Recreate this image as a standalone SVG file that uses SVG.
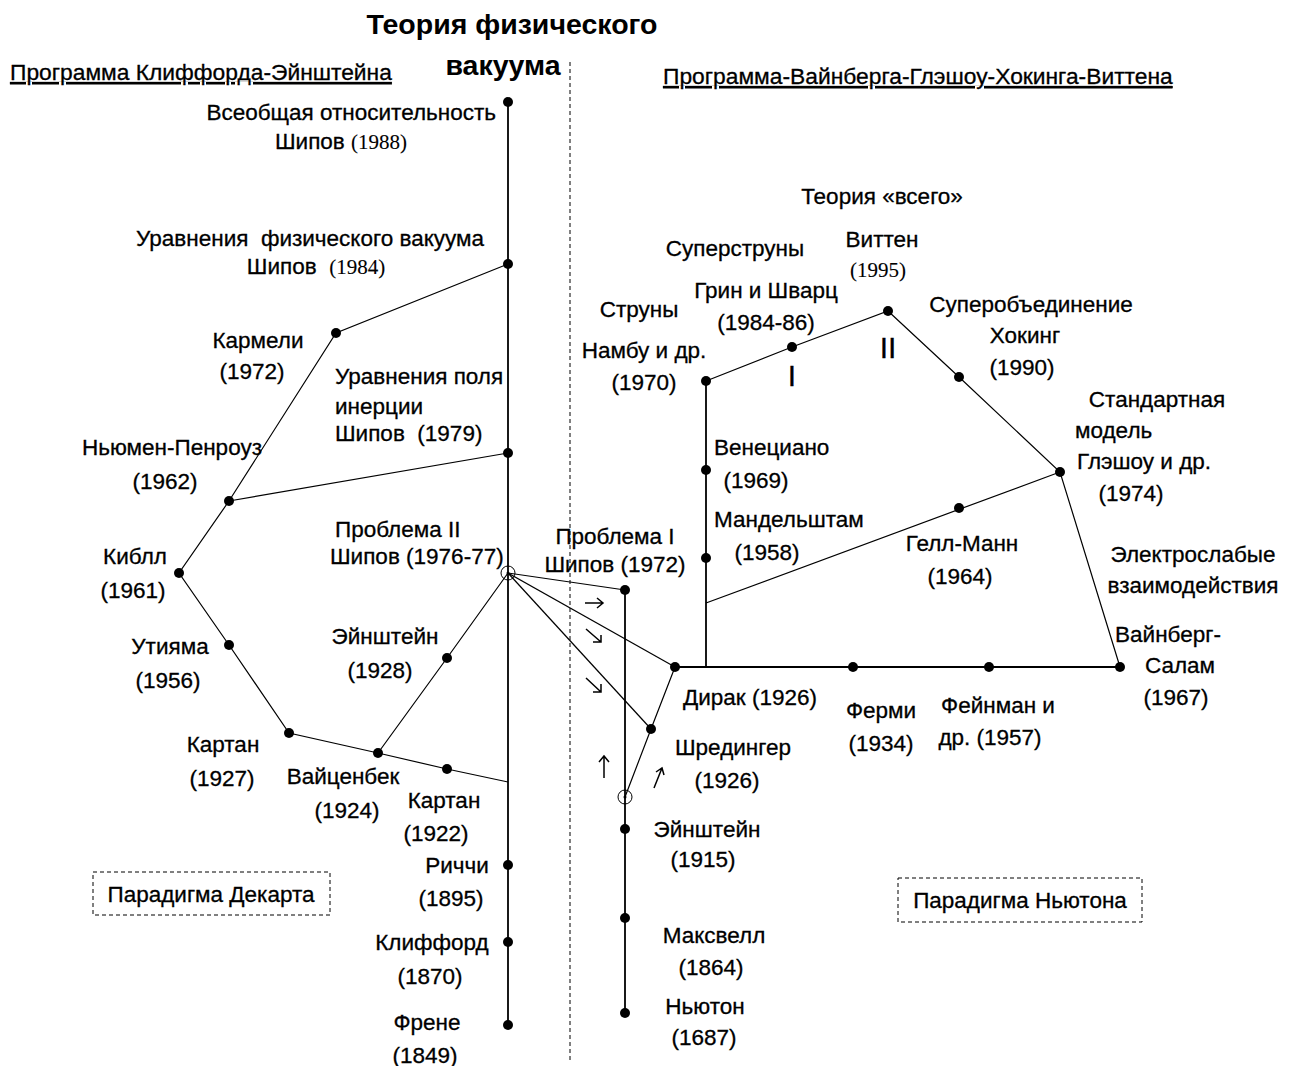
<svg xmlns="http://www.w3.org/2000/svg" width="1297" height="1066" viewBox="0 0 1297 1066">
<defs>
<style>
text{font-family:"Liberation Sans",Arial,sans-serif;font-size:22.5px;fill:#000;stroke:#000;stroke-width:0.3}
.m{text-anchor:middle}
.s{font-family:"Liberation Serif","Times New Roman",serif;font-size:21px;stroke-width:0.1}
.t{font-size:28.5px;font-weight:bold;text-anchor:middle;stroke-width:0}
.u{font-size:22.8px;text-decoration:underline}
.r{font-size:30px;text-anchor:middle}
.e{stroke:#000;stroke-width:1.2;fill:none}
.k{stroke:#000;stroke-width:1.8;fill:none}
.d{fill:#000}
.b{fill:none;stroke:#000;stroke-width:1;stroke-dasharray:4,3}
.a{stroke:#000;stroke-width:1.5;fill:none}
</style>
</defs>
<rect width="1297" height="1066" fill="#fff"/>
<line x1="570" y1="62" x2="570" y2="1062" class="b"/>
<g id="connectors">
<line x1="508" y1="102" x2="508" y2="1025" class="k"/>
<line x1="625" y1="590" x2="625" y2="1013" class="k"/>
<line x1="675" y1="667" x2="1120" y2="667" class="k"/>
<line x1="706" y1="381" x2="706" y2="667" class="k"/>
<polyline points="508,264 336,333 229,501 179,573 229,645 289,733 378,753 447,769 508,782" class="e"/>
<line x1="229" y1="501" x2="508" y2="453" class="e"/>
<polyline points="378,753 447,658 508,573" class="e"/>
<line x1="508" y1="573" x2="625" y2="590" class="e"/>
<line x1="508" y1="573" x2="675" y2="667" class="e"/>
<line x1="508" y1="573" x2="651" y2="729" class="e"/>
<polyline points="675,667 651,729 625,797" class="e"/>
<polyline points="706,381 792,347 888,311 959,377 1060,472 1120,667" class="e"/>
<line x1="706" y1="603" x2="1060" y2="472" class="e"/>
<g id="arrows" class="a">
<path d="M585,603 L603,603 M597,598 L603,603 L597,608"/>
<path d="M586,629 L601,642 M593,642 L601,642 L601,635"/>
<path d="M586,678 L601,692 M593,692 L601,692 L601,684"/>
<path d="M604,778 L604,756 M599,762 L604,756 L609,762"/>
<path d="M654,788 L662,768 M656,772 L662,768 L664,775"/>
</g>
</g>
<g id="nodes">
<g id="n-vsego"><circle cx="508" cy="102" r="5" class="d"/><text x="496" y="120" text-anchor="end">Всеобщая относительность</text><text x="341" y="149" class="m">Шипов <tspan class="s">(1988)</tspan></text></g>
<g id="n-urvak"><circle cx="508" cy="264" r="5" class="d"/><text x="310" y="246" class="m" xml:space="preserve">Уравнения  физического вакуума</text><text x="316" y="274" class="m" xml:space="preserve">Шипов  <tspan class="s">(1984)</tspan></text></g>
<g id="n-karmeli"><circle cx="336" cy="333" r="5" class="d"/><text x="258" y="348" class="m">Кармели</text><text x="252" y="379" class="m">(1972)</text></g>
<g id="n-inertia"><circle cx="508" cy="453" r="5" class="d"/><text x="335" y="384">Уравнения поля</text><text x="335" y="414">инерции</text><text x="335" y="441" xml:space="preserve">Шипов  (1979)</text></g>
<g id="n-newman"><circle cx="229" cy="501" r="5" class="d"/><text x="172" y="455" class="m">Ньюмен-Пенроуз</text><text x="165" y="489" class="m">(1962)</text></g>
<g id="n-kibble"><circle cx="179" cy="573" r="5" class="d"/><text x="135" y="564" class="m">Киблл</text><text x="133" y="598" class="m">(1961)</text></g>
<g id="n-prob2"><circle cx="508" cy="573" r="7" fill="none" stroke="#000" stroke-width="1"/><circle cx="508" cy="573" r="1.5" class="d"/><text x="335" y="537">Проблема II</text><text x="330" y="564">Шипов (1976-77)</text></g>
<g id="n-utiyama"><circle cx="229" cy="645" r="5" class="d"/><text x="170" y="654" class="m">Утияма</text><text x="168" y="688" class="m">(1956)</text></g>
<g id="n-einst28"><circle cx="447" cy="658" r="5" class="d"/><text x="385" y="644" class="m">Эйнштейн</text><text x="380" y="678" class="m">(1928)</text></g>
<g id="n-cartan27"><circle cx="289" cy="733" r="5" class="d"/><text x="223" y="752" class="m">Картан</text><text x="222" y="786" class="m">(1927)</text></g>
<g id="n-weitz"><circle cx="378" cy="753" r="5" class="d"/><text x="343" y="784" class="m">Вайценбек</text><text x="347" y="818" class="m">(1924)</text></g>
<g id="n-cartan22"><circle cx="447" cy="769" r="5" class="d"/><text x="444" y="808" class="m">Картан</text><text x="436" y="841" class="m">(1922)</text></g>
<g id="n-ricci"><circle cx="508" cy="865" r="5" class="d"/><text x="457" y="873" class="m">Риччи</text><text x="451" y="906" class="m">(1895)</text></g>
<g id="n-clifford"><circle cx="508" cy="942" r="5" class="d"/><text x="432" y="950" class="m">Клиффорд</text><text x="430" y="984" class="m">(1870)</text></g>
<g id="n-frenet"><circle cx="508" cy="1025" r="5" class="d"/><text x="427" y="1030" class="m">Френе</text><text x="425" y="1063" class="m">(1849)</text></g>
<g id="n-prob1"><circle cx="625" cy="590" r="5" class="d"/><text x="615" y="544" class="m">Проблема I</text><text x="615" y="572" class="m">Шипов (1972)</text></g>
<g id="n-schrod"><circle cx="651" cy="729" r="5" class="d"/><text x="733" y="755" class="m">Шредингер</text><text x="727" y="788" class="m">(1926)</text></g>
<g id="n-circ2"><circle cx="625" cy="797" r="7" fill="none" stroke="#000" stroke-width="1"/><circle cx="625" cy="797" r="1.5" class="d"/></g>
<g id="n-einst15"><circle cx="625" cy="829" r="5" class="d"/><text x="707" y="837" class="m">Эйнштейн</text><text x="703" y="867" class="m">(1915)</text></g>
<g id="n-maxwell"><circle cx="625" cy="918" r="5" class="d"/><text x="714" y="943" class="m">Максвелл</text><text x="711" y="975" class="m">(1864)</text></g>
<g id="n-newton"><circle cx="625" cy="1013" r="5" class="d"/><text x="705" y="1014" class="m">Ньютон</text><text x="704" y="1045" class="m">(1687)</text></g>
<g id="n-dirac"><circle cx="675" cy="667" r="5" class="d"/><text x="683" y="705">Дирак (1926)</text></g>
<g id="n-fermi"><circle cx="853" cy="667" r="5" class="d"/><text x="881" y="718" class="m">Ферми</text><text x="881" y="751" class="m">(1934)</text></g>
<g id="n-feynman"><circle cx="989" cy="667" r="5" class="d"/><text x="998" y="713" class="m">Фейнман и</text><text x="990" y="745" class="m">др. (1957)</text></g>
<g id="n-weinberg"><circle cx="1120" cy="667" r="5" class="d"/><text x="1168" y="642" class="m">Вайнберг-</text><text x="1180" y="673" class="m">Салам</text><text x="1176" y="705" class="m">(1967)</text></g>
<g id="n-mandel"><circle cx="706" cy="558" r="5" class="d"/><text x="714" y="527">Мандельштам</text><text x="767" y="560" class="m">(1958)</text></g>
<g id="n-venez"><circle cx="706" cy="470" r="5" class="d"/><text x="714" y="455">Венециано</text><text x="756" y="488" class="m">(1969)</text></g>
<g id="n-nambu"><circle cx="706" cy="381" r="5" class="d"/><text x="639" y="317" class="m">Струны</text><text x="644" y="358" class="m">Намбу и др.</text><text x="644" y="390" class="m">(1970)</text></g>
<g id="n-green"><circle cx="792" cy="347" r="5" class="d"/><text x="735" y="256" class="m">Суперструны</text><text x="766" y="298" class="m">Грин и Шварц</text><text x="766" y="330" class="m">(1984-86)</text><text x="792" y="386" class="r">I</text></g>
<g id="n-witten"><circle cx="888" cy="311" r="5" class="d"/><text x="882" y="204" class="m">Теория «всего»</text><text x="882" y="247" class="m">Виттен</text><text x="878" y="277" class="m s">(1995)</text><text x="888" y="358" class="r">II</text></g>
<g id="n-hawking"><circle cx="959" cy="377" r="5" class="d"/><text x="1031" y="312" class="m">Суперобъединение</text><text x="1025" y="343" class="m">Хокинг</text><text x="1022" y="375" class="m">(1990)</text></g>
<g id="n-standard"><circle cx="1060" cy="472" r="5" class="d"/><text x="1157" y="407" class="m">Стандартная</text><text x="1075" y="438">модель</text><text x="1077" y="469">Глэшоу и др.</text><text x="1131" y="501" class="m">(1974)</text></g>
<g id="n-gellmann"><circle cx="959" cy="508" r="5" class="d"/><text x="962" y="551" class="m">Гелл-Манн</text><text x="960" y="584" class="m">(1964)</text></g>
<text x="1193" y="562" class="m">Электрослабые</text><text x="1193" y="593" class="m">взаимодействия</text>
</g>
<g id="labels">
<text x="512" y="34" class="t">Теория физического</text>
<text x="503" y="75" class="t">вакуума</text>
<text x="10" y="80" class="u">Программа Клиффорда-Эйнштейна</text>
<text x="663" y="84" class="u">Программа-Вайнберга-Глэшоу-Хокинга-Виттена</text>
<g id="box-dekart"><rect x="93" y="872" width="237" height="43" class="b"/><text x="211" y="902" class="m">Парадигма Декарта</text></g>
<g id="box-newton"><rect x="898" y="878" width="244" height="44" class="b"/><text x="1020" y="908" class="m">Парадигма Ньютона</text></g>
</g>
</svg>
